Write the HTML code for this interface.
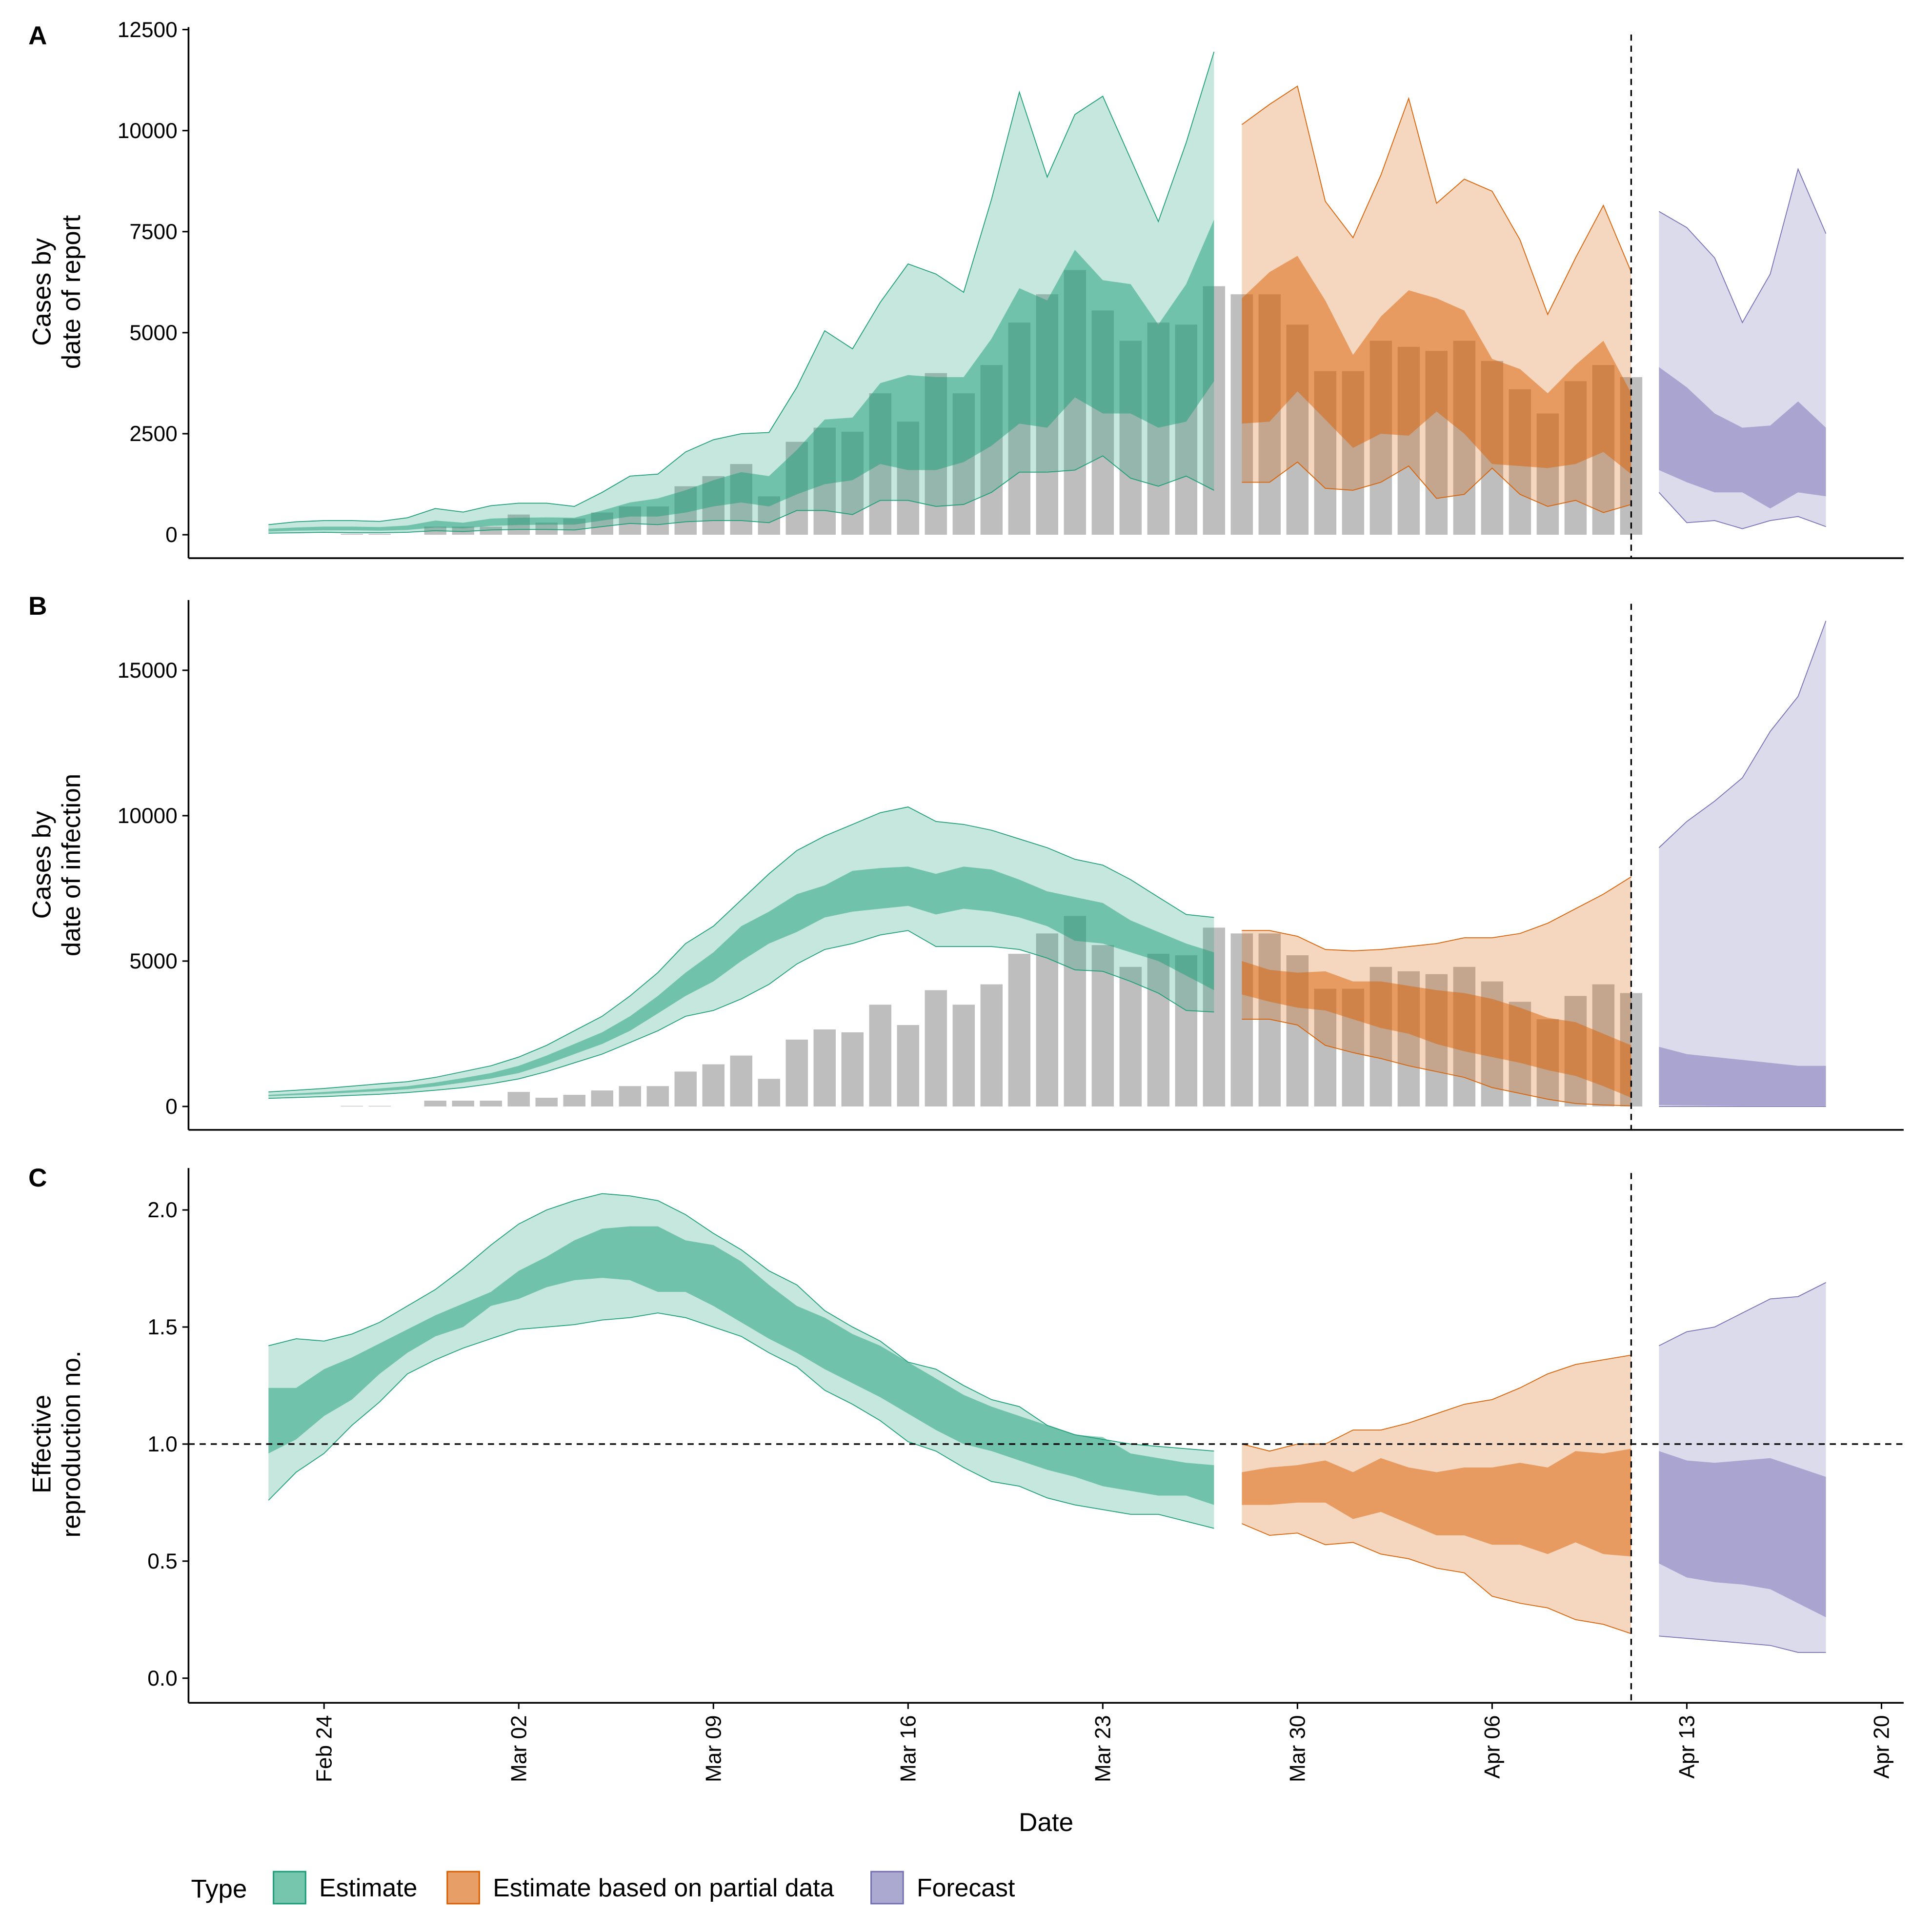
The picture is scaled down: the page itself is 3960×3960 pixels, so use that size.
<!DOCTYPE html>
<html><head><meta charset="utf-8"><style>html,body{margin:0;padding:0;background:#fff}svg{display:block}text{font-family:"Liberation Sans",sans-serif}</style></head>
<body>
<svg id="chart" xmlns="http://www.w3.org/2000/svg" width="3960" height="3960" viewBox="0 0 1568 1568"></svg>
<script>
const barDays=[1,2,3,4,5,6,7,8,9,10,11,12,13,14,15,16,17,18,19,20,21,22,23,24,25,26,27,28,29,30,31,32,33,34,35,36,37,38,39,40,41,42,43,44,45,46,47];
const barValues=[20,20,0,200,200,200,500,300,400,550,700,700,1200,1450,1750,950,2300,2650,2550,3500,2800,4000,3500,4200,5250,5950,6550,5550,4800,5250,5200,6150,5950,5950,5200,4050,4050,4800,4650,4550,4800,4300,3600,3000,3800,4200,3900];
const estDays=[-2,-1,0,1,2,3,4,5,6,7,8,9,10,11,12,13,14,15,16,17,18,19,20,21,22,23,24,25,26,27,28,29,30,31,32];
const partDays=[33,34,35,36,37,38,39,40,41,42,43,44,45,46,47];
const fcDays=[48,49,50,51,52,53,54];
// Panel A
const aEstU90=[250,320,350,350,330,420,650,560,720,780,780,700,1050,1450,1500,2050,2350,2500,2530,3650,5050,4600,5750,6700,6450,6000,8300,10950,8850,10400,10850,9300,7750,9700,11950];
const aEstU50=[150,180,200,200,190,230,350,300,400,420,430,420,600,800,900,1100,1350,1550,1450,2100,2850,2900,3750,3950,3900,3900,4850,6100,5800,7050,6300,6200,5200,6200,7800];
const aEstL50=[80,100,110,110,100,120,180,160,220,240,250,250,350,450,450,550,700,800,700,1000,1250,1350,1750,1600,1600,1800,2200,2750,2650,3400,3000,3000,2650,2800,3800];
const aEstL90=[40,50,60,50,50,60,100,80,120,130,130,120,200,280,250,320,350,350,300,600,600,500,850,850,700,750,1050,1550,1550,1600,1950,1400,1200,1450,1100];
const aPartU90=[10150,10650,11100,8250,7350,8900,10800,8200,8800,8500,7300,5450,6850,8150,6500];
const aPartU50=[5850,6500,6900,5800,4450,5400,6050,5850,5550,4350,4100,3500,4200,4800,3500];
const aPartL50=[2750,2800,3550,2850,2150,2500,2450,3050,2500,1750,1700,1650,1750,2050,1500];
const aPartL90=[1300,1300,1800,1150,1100,1300,1700,900,1000,1650,1000,700,850,550,750];
const aFcU90=[8000,7600,6850,5250,6450,9050,7450];
const aFcU50=[4150,3650,3000,2650,2700,3300,2650];
const aFcL50=[1600,1300,1050,1050,650,1050,950];
const aFcL90=[1050,300,350,150,350,450,200];
// Panel B
const bEstU90=[500,560,620,700,780,850,1000,1200,1400,1700,2100,2600,3100,3800,4600,5600,6200,7100,8000,8800,9300,9700,10100,10300,9800,9700,9500,9200,8900,8500,8300,7800,7200,6600,6500];
const bEstU50=[400,450,500,560,620,700,820,980,1150,1400,1750,2150,2550,3100,3800,4600,5300,6200,6700,7300,7600,8100,8200,8250,8000,8250,8150,7800,7400,7200,7000,6400,6000,5600,5300];
const bEstL50=[350,390,430,480,530,590,690,820,960,1150,1450,1800,2150,2600,3200,3800,4300,5000,5600,6000,6500,6700,6800,6900,6600,6800,6700,6500,6200,5700,5600,5300,5000,4500,4000];
const bEstL90=[280,310,340,380,420,480,560,650,780,950,1200,1500,1800,2200,2600,3100,3300,3700,4200,4900,5400,5600,5900,6050,5500,5500,5500,5400,5100,4700,4650,4300,3900,3300,3250];
const bPartU90=[6050,6050,5850,5400,5350,5400,5500,5600,5800,5800,5950,6300,6800,7300,7900];
const bPartU50=[5000,4700,4600,4650,4300,4300,4150,4000,3900,3700,3400,3050,2900,2500,2100];
const bPartL50=[3850,3600,3400,3300,3000,2700,2500,2150,1900,1700,1500,1250,1050,700,300];
const bPartL90=[3000,3000,2800,2100,1850,1650,1400,1200,1000,650,450,250,100,50,20];
const bFcU90=[8900,9800,10500,11300,12900,14100,16700];
const bFcU50=[2050,1800,1700,1600,1500,1400,1400];
const bFcL50=[50,40,30,20,20,20,20];
const bFcL90=[0,0,0,0,0,0,0];
// Panel C
const cEstU90=[1.42,1.45,1.44,1.47,1.52,1.59,1.66,1.75,1.85,1.94,2.00,2.04,2.07,2.06,2.04,1.98,1.90,1.83,1.74,1.68,1.57,1.50,1.44,1.35,1.32,1.25,1.19,1.16,1.08,1.04,1.02,1.00,0.99,0.98,0.97];
const cEstU50=[1.24,1.24,1.32,1.37,1.43,1.49,1.55,1.60,1.65,1.74,1.80,1.87,1.92,1.93,1.93,1.87,1.85,1.78,1.68,1.59,1.54,1.47,1.42,1.35,1.28,1.21,1.16,1.12,1.08,1.04,1.03,0.96,0.94,0.92,0.91];
const cEstL50=[0.96,1.02,1.12,1.19,1.30,1.39,1.46,1.50,1.59,1.62,1.67,1.70,1.71,1.70,1.65,1.65,1.59,1.52,1.45,1.39,1.32,1.26,1.20,1.13,1.06,1.00,0.97,0.93,0.89,0.86,0.82,0.80,0.78,0.78,0.74];
const cEstL90=[0.76,0.88,0.96,1.08,1.18,1.30,1.36,1.41,1.45,1.49,1.50,1.51,1.53,1.54,1.56,1.54,1.50,1.46,1.39,1.33,1.23,1.17,1.10,1.01,0.97,0.90,0.84,0.82,0.77,0.74,0.72,0.70,0.70,0.67,0.64];
const cPartU90=[1.00,0.97,1.00,1.00,1.06,1.06,1.09,1.13,1.17,1.19,1.24,1.30,1.34,1.36,1.38];
const cPartU50=[0.88,0.90,0.91,0.93,0.88,0.94,0.90,0.88,0.90,0.90,0.92,0.90,0.97,0.96,0.98];
const cPartL50=[0.74,0.74,0.75,0.75,0.68,0.71,0.66,0.61,0.61,0.57,0.57,0.53,0.58,0.53,0.52];
const cPartL90=[0.66,0.61,0.62,0.57,0.58,0.53,0.51,0.47,0.45,0.35,0.32,0.30,0.25,0.23,0.19];
const cFcU90=[1.42,1.48,1.50,1.56,1.62,1.63,1.69];
const cFcU50=[0.97,0.93,0.92,0.93,0.94,0.90,0.86];
const cFcL50=[0.49,0.43,0.41,0.40,0.38,0.32,0.26];
const cFcL90=[0.18,0.17,0.16,0.15,0.14,0.11,0.11];
const aTicks=[0,2500,5000,7500,10000,12500];
const bTicks=[0,5000,10000,15000];
const cTicks=[0,0.5,1,1.5,2];
const cTickLabels=["0.0","0.5","1.0","1.5","2.0"];
const xTickDays=[0,7,14,21,28,35,42,49,56];
const xTickLabels=["Feb 24","Mar 02","Mar 09","Mar 16","Mar 23","Mar 30","Apr 06","Apr 13","Apr 20"];

const NS="http://www.w3.org/2000/svg";
const svg=document.getElementById('chart');
function mk(tag,attrs,parent){const e=document.createElementNS(NS,tag);for(const k in attrs)e.setAttribute(k,attrs[k]);(parent||svg).appendChild(e);return e;}
const X=d=>263+d*158/7;
const yA=v=>434-v*82/2500;
const yB=v=>898-v*118/5000;
const yC=v=>1362-v*190;
const AXL=153,AXR=1545;
const TF=17.5,TT=21;
const COL={est:'#1b9e77',part:'#d95f02',fc:'#7570b3'};

function band(g,days,lo,hi,y,color,op,stroke,name){
  const pts=days.map((d,i)=>X(d).toFixed(1)+','+y(hi[i]).toFixed(1));
  const pts2=days.map((d,i)=>X(d).toFixed(1)+','+y(lo[i]).toFixed(1)).reverse();
  const p=mk('polygon',{points:pts.concat(pts2).join(' '),fill:color,'fill-opacity':op,stroke:'none'},g);
  
  
  if(stroke){
    const l1=mk('polyline',{points:pts.join(' '),fill:'none',stroke:color,'stroke-width':0.7},g);
    
    
    const l2=mk('polyline',{points:pts2.join(' '),fill:'none',stroke:color,'stroke-width':0.7},g);
    
    
  }
}
function series(g,days,l90,l50,u50,u90,y,color,name){
  band(g,days,l90,u90,y,color,0.25,true,name+'-90-band');
  band(g,days,l50,u50,y,color,0.5,false,name+'-50-band');
}
function yaxis(g,top,bottom,ticks,labels,y,name){
  const a=mk('line',{x1:AXL,x2:AXL,y1:top,y2:bottom,stroke:'#000','stroke-width':1.4},g);
  
  
  ticks.forEach((t,i)=>{
    mk('line',{x1:AXL-5,x2:AXL,y1:y(t),y2:y(t),stroke:'#000','stroke-width':1.2},g);
    const tx=mk('text',{x:AXL-9,y:y(t)+6,'text-anchor':'end','font-size':TF,fill:'#000'},g);
    tx.textContent=labels[i];
    
    
  });
  const b=mk('line',{x1:AXL,x2:AXR,y1:bottom,y2:bottom,stroke:'#000','stroke-width':1.4},g);
  
  
}
function title(lines,cy,name){
  const t=mk('text',{transform:`translate(42,${cy}) rotate(-90)`,'text-anchor':'middle','font-size':TT,fill:'#000'});
  
  
  lines.forEach((s,i)=>{const ts=mk('tspan',{x:0,dy:i==0?-1:24},t);ts.textContent=s;});
}
function letter(s,y){const t=mk('text',{x:23,y:y,'font-size':TT,'font-weight':'bold',fill:'#000'});t.textContent=s;
  
  }
function bars(g,y,name){
  barDays.forEach((d,i)=>{
    const r=mk('rect',{x:X(d)-9,y:y(barValues[i]),width:18,height:Math.max(0,y(0)-y(barValues[i])),fill:'#bebebe'},g);
    
    
  });
}
function vline(g,top,bottom){
  const l=mk('line',{x1:X(47),x2:X(47),y1:top,y2:bottom,stroke:'#000','stroke-width':1.3,'stroke-dasharray':'5,4'},g);
  
  
}

const gA=mk('g',{});
bars(gA,yA,'reported-cases');
series(gA,estDays,aEstL90,aEstL50,aEstU50,aEstU90,yA,COL.est,'a-estimate');
series(gA,partDays,aPartL90,aPartL50,aPartU50,aPartU90,yA,COL.part,'a-partial');
series(gA,fcDays,aFcL90,aFcL50,aFcU50,aFcU90,yA,COL.fc,'a-forecast');
vline(gA,28,453);
yaxis(gA,22,453,aTicks,aTicks.map(String),yA,'a');
title(['Cases by','date of report'],237,'a-y-axis-title');letter('A',36);

const gB=mk('g',{});
bars(gB,yB,'reported-cases-b');
series(gB,estDays,bEstL90,bEstL50,bEstU50,bEstU90,yB,COL.est,'b-estimate');
series(gB,partDays,bPartL90,bPartL50,bPartU50,bPartU90,yB,COL.part,'b-partial');
series(gB,fcDays,bFcL90,bFcL50,bFcU50,bFcU90,yB,COL.fc,'b-forecast');
vline(gB,490,917);
yaxis(gB,487,917,bTicks,bTicks.map(String),yB,'b');
title(['Cases by','date of infection'],702,'b-y-axis-title');letter('B',499);

const gC=mk('g',{});
series(gC,estDays,cEstL90,cEstL50,cEstU50,cEstU90,yC,COL.est,'c-estimate');
series(gC,partDays,cPartL90,cPartL50,cPartU50,cPartU90,yC,COL.part,'c-partial');
series(gC,fcDays,cFcL90,cFcL50,cFcU50,cFcU90,yC,COL.fc,'c-forecast');
const h=mk('line',{x1:AXL,x2:AXR,y1:yC(1),y2:yC(1),stroke:'#000','stroke-width':1.3,'stroke-dasharray':'5,4'},gC);


vline(gC,952,1382);
yaxis(gC,948,1382,cTicks,cTickLabels,yC,'c');
title(['Effective','reproduction no.'],1172,'c-y-axis-title');letter('C',963);

xTickDays.forEach((d,i)=>{
  mk('line',{x1:X(d),x2:X(d),y1:1382,y2:1387,stroke:'#000','stroke-width':1.2});
  const t=mk('text',{transform:`translate(${X(d)+6},1392) rotate(-90)`,'text-anchor':'end','font-size':TF,fill:'#000'});
  t.textContent=xTickLabels[i];
  
  
});
const xt=mk('text',{x:849,y:1486,'text-anchor':'middle','font-size':TT,fill:'#000'});xt.textContent='Date';



const lg=mk('g',{});
const lt=mk('text',{x:155,y:1540,'font-size':TT,fill:'#000'},lg);lt.textContent='Type';

[['Estimate',COL.est,221],['Estimate based on partial data',COL.part,362],['Forecast',COL.fc,706]].forEach(e=>{
  const k=mk('rect',{x:e[2]+1,y:1519,width:26,height:26,fill:e[1],'fill-opacity':0.6,stroke:e[1],'stroke-width':1.2},lg);
  
  const t=mk('text',{x:e[2]+38,y:1539,'font-size':20.5,fill:'#000'},lg);t.textContent=e[0];
  
});
</script>
</body></html>
